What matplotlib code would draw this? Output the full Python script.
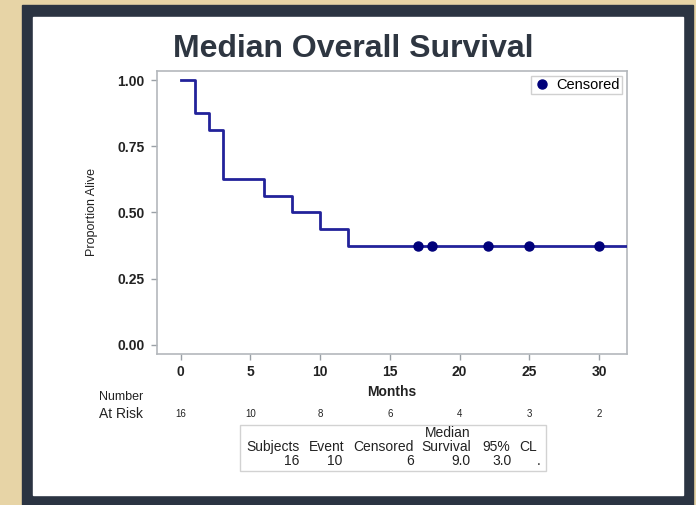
import matplotlib
matplotlib.use("Agg")
import matplotlib.pyplot as plt
from matplotlib.patches import Rectangle
from matplotlib.lines import Line2D
from matplotlib.transforms import blended_transform_factory

# Kaplan-Meier estimate, months
times = [0, 1, 2, 3, 6, 8, 10, 12, 32]
surv = [1.0, 0.875, 0.8125, 0.625, 0.5625, 0.5, 0.4375, 0.375, 0.375]
cens_times = [17, 18, 22, 25, 30]
cens_surv = [0.375, 0.375, 0.375, 0.375, 0.375]

risk_times = [0, 5, 10, 15, 20, 25, 30]
at_risk = [16, 10, 8, 6, 4, 3, 2]

tbl_header = ["Subjects", "Event", "Censored", "Survival", "95%", "CL"]
tbl_values = ["16", "10", "6", "9.0", "3.0", "."]

W, H = 696, 505
fig = plt.figure(figsize=(W / 100, H / 100), dpi=100)
fig.patch.set_facecolor('#e7d4a6')

def fx(px):
    return px / W

def fy(py):
    return 1 - py / H

# dark frame + white slide panel
fig.patches.append(Rectangle((fx(22), fy(510)), fx(693 - 22), (510 - 5) / H,
                             transform=fig.transFigure, color='#2b3442', zorder=-3))
fig.patches.append(Rectangle((fx(33), fy(495)), fx(683 - 33), (495 - 17) / H,
                             transform=fig.transFigure, color='white', zorder=-2))

plt.rcParams['font.family'] = ['Liberation Sans', 'DejaVu Sans']
ink = '#222222'

fig.text(fx(353), fy(57), "Median Overall Survival", ha='center', va='baseline',
         fontsize=23, fontweight='bold', color='#2e3641')

ax = fig.add_axes([fx(157), fy(354), fx(627 - 157), (354 - 71) / H])
ax.set_zorder(1)
ax.set_facecolor('white')

ax.step(times, surv, where='post', color='#22229a', linewidth=2, zorder=3)
ax.plot(cens_times, cens_surv, 'o', color='#00007a', markersize=6.5, zorder=4)

ax.set_xlim(-1.7, 32)
ax.set_ylim(-0.034, 1.034)
ax.set_xticks(risk_times)
ax.set_yticks([0, 0.25, 0.5, 0.75, 1.0])
ax.set_yticklabels(["0.00", "0.25", "0.50", "0.75", "1.00"])

for s in ax.spines.values():
    s.set_color('#b4b8bc')
    s.set_linewidth(1.2)
ax.tick_params(direction='out', length=4, width=1, color='#9aa0a6',
               labelsize=10, labelcolor=ink)
ax.tick_params(axis='x', pad=4)
ax.tick_params(axis='y', pad=5)
for lbl in ax.get_xticklabels() + ax.get_yticklabels():
    lbl.set_fontweight('bold')

ax.set_xlabel("Months", fontsize=10, fontweight='bold', color=ink, labelpad=4)
ax.set_ylabel("Proportion Alive", fontsize=9, color=ink, labelpad=14)

handle = Line2D([], [], linestyle='none', marker='o', color='#00007a', markersize=6.5)
leg = ax.legend([handle], ["Censored"], loc='upper right', fontsize=10.5,
                fancybox=False, framealpha=1, edgecolor='#d0d0d0',
                handletextpad=0.4, borderpad=0.15, handlelength=1.2,
                borderaxespad=0.35)
leg.get_frame().set_linewidth(1)

# number at risk row
fig.text(fx(99), fy(397), "Number", fontsize=9, va='center', color=ink)
fig.text(fx(99), fy(414), "At Risk", fontsize=10, va='center', color=ink)
trans = blended_transform_factory(ax.transData, fig.transFigure)
for t, n in zip(risk_times, at_risk):
    ax.text(t, fy(414), str(n), transform=trans, ha='center', va='center',
            fontsize=7, color=ink, clip_on=False)

# summary table
fig.patches.append(Rectangle((fx(240), fy(471)), fx(546 - 240), (471 - 425) / H,
                             transform=fig.transFigure, facecolor='white',
                             edgecolor='#d2d2d2', linewidth=1, zorder=1))
hdr_right = [300, 345, 414, 471, 510, 537]
val_right = [299, 342, 414, 471, 512, 540]
fig.text(fx(471), fy(433), "Median", ha='right', va='center', fontsize=10, color=ink)
for x, h in zip(hdr_right, tbl_header):
    fig.text(fx(x), fy(447), h, ha='right', va='center', fontsize=10, color=ink)
for x, v in zip(val_right, tbl_values):
    fig.text(fx(x), fy(461), v, ha='right', va='center', fontsize=10, color=ink)

fig.savefig("out.png", dpi=100, facecolor=fig.get_facecolor())
